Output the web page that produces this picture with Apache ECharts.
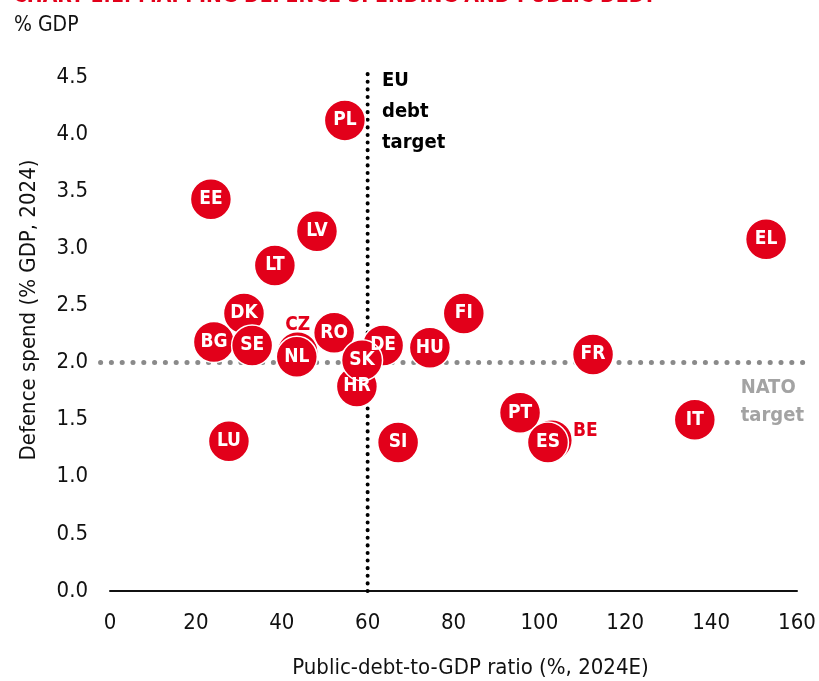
<!DOCTYPE html>
<html>
<head>
<meta charset="utf-8">
<script src="https://cdn.jsdelivr.net/npm/echarts@6/dist/echarts.min.js"></script>
<style>
  html, body { margin: 0; padding: 0; background: #fff; }
  #chart { width: 819px; height: 681px; }
</style>
</head>
<body>
<div id="chart"></div>
<script>
// country codes, public debt (% GDP, 2024E), defence spend (% GDP, 2024)
// order = draw order (later ones on top)
const countries = ['PL', 'EE', 'LV', 'LT', 'EL', 'DK', 'BG', 'SE', 'CZ', 'NL', 'RO', 'DE', 'HR', 'SK', 'HU', 'FI', 'FR', 'PT', 'BE', 'ES', 'IT', 'LU', 'SI'];
const debt = [54.7, 23.5, 48.2, 38.4, 152.8, 31.2, 24.2, 33.1, 43.7, 43.5, 52.2, 63.6, 57.5, 58.7, 74.5, 82.4, 112.5, 95.5, 102.9, 102.0, 136.2, 27.7, 67.1];
const defence = [4.12, 3.43, 3.15, 2.85, 3.08, 2.43, 2.18, 2.15, 2.09, 2.05, 2.26, 2.15, 1.79, 2.02, 2.13, 2.43, 2.07, 1.56, 1.32, 1.30, 1.50, 1.31, 1.30];

const xTicks = [0, 20, 40, 60, 80, 100, 120, 140, 160];
const yTicks = [0, 0.5, 1, 1.5, 2, 2.5, 3, 3.5, 4, 4.5];

const euDebtTarget = 60;
const natoTarget = 2.0;
const natoLineSpan = [-2.2, 163.6];   // dotted line runs a bit past the plot
const euLineTop = 4.56;

// labels that sit outside their (hidden) bubble
const outsideLabels = { CZ: { position: 'top', distance: -4 }, BE: { position: 'right', distance: 0, offset: [0, -9] } };

const red = '#e2001a';
const font = "'DejaVu Sans Condensed', 'Liberation Sans Narrow', sans-serif";

const points = countries.map((c, i) => {
  const item = { name: c, value: [debt[i], defence[i]] };
  if (outsideLabels[c]) {
    item.label = Object.assign({ color: red }, outsideLabels[c]);
  }
  return item;
});

const chart = echarts.init(document.getElementById('chart'));

chart.setOption({
  animation: false,
  textStyle: { fontFamily: font },
  title: [
    {
      text: 'CHART 1.1: MAPPING DEFENCE SPENDING AND PUBLIC DEBT',
      left: 8, top: -19,
      textStyle: { color: red, fontSize: 21, fontWeight: 'bold', fontFamily: font }
    },
    {
      text: '% GDP',
      left: 9, top: 10,
      textStyle: { color: '#111', fontSize: 21, fontWeight: 'normal', fontFamily: font }
    }
  ],
  grid: { left: 110, right: 22, top: 77, bottom: 90, containLabel: false, outerBoundsMode: 'none' },
  xAxis: {
    type: 'value',
    min: xTicks[0], max: xTicks[xTicks.length - 1], interval: 20,
    name: 'Public-debt-to-GDP ratio (%, 2024E)',
    nameLocation: 'middle', nameGap: 66,
    nameTextStyle: { fontSize: 22, color: '#111', padding: [0, 0, 0, 34] },
    axisLine: { show: true, onZero: false, lineStyle: { color: '#111', width: 2 } },
    axisTick: { show: false },
    splitLine: { show: false },
    axisLabel: { fontSize: 22, color: '#111', margin: 21 }
  },
  yAxis: {
    type: 'value',
    min: yTicks[0], max: yTicks[yTicks.length - 1], interval: 0.5,
    name: 'Defence spend (% GDP, 2024)',
    nameLocation: 'middle', nameGap: 70,
    nameTextStyle: { fontSize: 22, color: '#111', padding: [0, 0, 0, 48] },
    axisLine: { show: false },
    axisTick: { show: false },
    splitLine: { show: false },
    axisLabel: { fontSize: 22, color: '#111', margin: 22, formatter: v => v.toFixed(1) }
  },
  series: [
    {
      type: 'scatter',
      data: points,
      symbolSize: 41,
      z: 3,
      itemStyle: { color: red, borderColor: '#fff', borderWidth: 1.5, opacity: 1 },
      label: {
        show: true, position: 'inside', formatter: '{b}',
        color: '#fff', fontSize: 19, fontWeight: 'bold'
      }
    }
  ]
});

// reference lines, placed through the axes' own scales
const toPx = v => chart.convertToPixel({ xAxisIndex: 0, yAxisIndex: 0 }, v);
const natoA = toPx([natoLineSpan[0], natoTarget]);
const natoB = toPx([natoLineSpan[1], natoTarget]);
const euA = toPx([euDebtTarget, 0]);
const euB = toPx([euDebtTarget, euLineTop]);

chart.setOption({
  graphic: [
    {
      type: 'line', z: 1, silent: true,
      shape: { x1: natoA[0], y1: natoA[1], x2: natoB[0], y2: natoB[1] },
      style: { stroke: '#8a8a8a', lineWidth: 5, lineDash: [0.1, 10.7], lineCap: 'round' }
    },
    {
      type: 'line', z: 2, silent: true,
      shape: { x1: euA[0], y1: euA[1], x2: euB[0], y2: euB[1] },
      style: { stroke: '#000', lineWidth: 4, lineDash: [0.1, 7.5], lineCap: 'round' }
    },
    {
      type: 'text',
      left: 382, top: 65,
      style: {
        text: 'EU\ndebt\ntarget',
        fill: '#000', fontSize: 20, fontWeight: 'bold', lineHeight: 31,
        fontFamily: font
      }
    },
    {
      type: 'text',
      right: 15, top: 374,
      style: {
        text: 'NATO\ntarget',
        fill: '#a3a3a3', fontSize: 20, fontWeight: 'bold', lineHeight: 28,
        align: 'right', fontFamily: font
      }
    }
  ]
});
</script>
</body>
</html>
